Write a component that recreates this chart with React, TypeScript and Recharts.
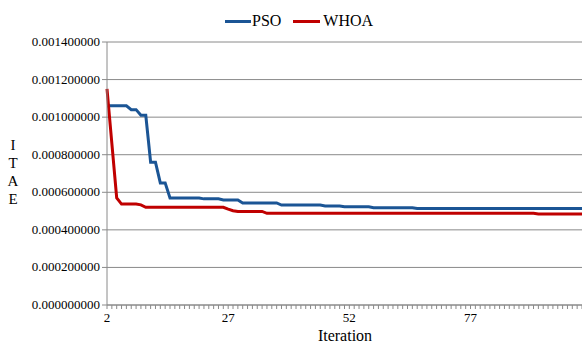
import React from 'react';
import { LineChart, Line, XAxis, YAxis, CartesianGrid } from 'recharts';

const iterations: number[] = [
  2, 3, 4, 5, 6, 7, 8, 9, 10, 11, 12, 13, 14, 15, 16, 17, 18, 19, 20, 21,
  22, 23, 24, 25, 26, 27, 28, 29, 30, 31, 32, 33, 34, 35, 36, 37, 38, 39, 40, 41,
  42, 43, 44, 45, 46, 47, 48, 49, 50, 51, 52, 53, 54, 55, 56, 57, 58, 59, 60, 61,
  62, 63, 64, 65, 66, 67, 68, 69, 70, 71, 72, 73, 74, 75, 76, 77, 78, 79, 80, 81,
  82, 83, 84, 85, 86, 87, 88, 89, 90, 91, 92, 93, 94, 95, 96, 97, 98, 99, 100,
];

const psoValues: number[] = [
  0.00106, 0.00106, 0.00106, 0.00106, 0.00106, 0.00104, 0.00104, 0.00101, 0.00101, 0.00076,
  0.00076, 0.00065, 0.00065, 0.00057, 0.00057, 0.00057, 0.00057, 0.00057, 0.00057, 0.00057,
  0.000565, 0.000565, 0.000565, 0.000565, 0.000559, 0.000559, 0.000559, 0.000559, 0.000543, 0.000543,
  0.000543, 0.000543, 0.000543, 0.000543, 0.000543, 0.000543, 0.000532, 0.000532, 0.000532, 0.000532,
  0.000532, 0.000532, 0.000532, 0.000532, 0.000532, 0.000527, 0.000527, 0.000527, 0.000527, 0.000523,
  0.000523, 0.000523, 0.000523, 0.000523, 0.000523, 0.000518, 0.000518, 0.000518, 0.000518, 0.000518,
  0.000518, 0.000518, 0.000518, 0.000518, 0.000514, 0.000514, 0.000514, 0.000514, 0.000514, 0.000514,
  0.000514, 0.000514, 0.000514, 0.000514, 0.000514, 0.000514, 0.000514, 0.000514, 0.000514, 0.000514,
  0.000514, 0.000514, 0.000514, 0.000514, 0.000514, 0.000514, 0.000514, 0.000514, 0.000514, 0.000514,
  0.000514, 0.000514, 0.000514, 0.000514, 0.000514, 0.000514, 0.000514, 0.000514, 0.000514,
];

const whoaValues: number[] = [
  0.00115, 0.00086, 0.00057, 0.000537, 0.000537, 0.000537, 0.000537, 0.000533, 0.00052, 0.00052,
  0.00052, 0.00052, 0.00052, 0.00052, 0.00052, 0.00052, 0.00052, 0.00052, 0.00052, 0.00052,
  0.00052, 0.00052, 0.00052, 0.00052, 0.00052, 0.00051, 0.000502, 0.000498, 0.000498, 0.000498,
  0.000498, 0.000498, 0.000498, 0.000488, 0.000488, 0.000488, 0.000488, 0.000488, 0.000488, 0.000488,
  0.000488, 0.000488, 0.000488, 0.000488, 0.000488, 0.000488, 0.000488, 0.000488, 0.000488, 0.000488,
  0.000488, 0.000488, 0.000488, 0.000488, 0.000488, 0.000488, 0.000488, 0.000488, 0.000488, 0.000488,
  0.000488, 0.000488, 0.000488, 0.000488, 0.000488, 0.000488, 0.000488, 0.000488, 0.000488, 0.000488,
  0.000488, 0.000488, 0.000488, 0.000488, 0.000488, 0.000488, 0.000488, 0.000488, 0.000488, 0.000488,
  0.000488, 0.000488, 0.000488, 0.000488, 0.000488, 0.000488, 0.000488, 0.000488, 0.000488, 0.000484,
  0.000484, 0.000484, 0.000484, 0.000484, 0.000484, 0.000484, 0.000484, 0.000484, 0.000484,
];

const xTickLabels: number[] = [2, 27, 52, 77];
const yTicks: number[] = [0, 0.0002, 0.0004, 0.0006, 0.0008, 0.001, 0.0012, 0.0014];
const yLabelLetters: string[] = ['I', 'T', 'A', 'E'];
const seriesNames = { pso: 'PSO', whoa: 'WHOA' };
const colors = { pso: '#1B5595', whoa: '#C00000' };

const data = iterations.map((it, i) => ({ it, pso: psoValues[i], whoa: whoaValues[i] }));

const FONT = '"Liberation Serif", "Times New Roman", serif';

const XTick = (props: any) => {
  const { x, y, payload } = props;
  if (!xTickLabels.includes(payload.value)) return null;
  return (
    <text x={x} y={y + 11} textAnchor="middle" fontFamily={FONT} fontSize={13} fill="#000">
      {payload.value}
    </text>
  );
};

const YTick = (props: any) => {
  const { x, y, payload } = props;
  return (
    <text x={x} y={y + 4} textAnchor="end" fontFamily={FONT} fontSize={13} fill="#000">
      {Number(payload.value).toFixed(9)}
    </text>
  );
};

const renderYLabel = () => (
  <text fontFamily={FONT} fontSize={15} fill="#000" textAnchor="middle">
    {yLabelLetters.map((l, i) => (
      <tspan key={l} x={13} y={150 + i * 18}>
        {l}
      </tspan>
    ))}
  </text>
);

const renderXLabel = () => (
  <text x={345} y={341} textAnchor="middle" fontFamily={FONT} fontSize={16} fill="#000">
    Iteration
  </text>
);

export default function App() {
  return (
    <div style={{ position: 'absolute', left: 0, top: 0, width: 582, height: 344, background: '#fff' }}>
      <div
        style={{
          position: 'absolute',
          left: 225,
          top: 12,
          display: 'flex',
          alignItems: 'center',
          fontFamily: FONT,
          fontSize: 16,
          color: '#000',
          whiteSpace: 'nowrap',
          zIndex: 2,
        }}
      >
        <span style={{ display: 'inline-block', width: 26, height: 3, background: colors.pso, marginRight: 1 }} />
        <span style={{ marginRight: 12 }}>{seriesNames.pso}</span>
        <span style={{ display: 'inline-block', width: 27, height: 3, background: colors.whoa, marginRight: 3 }} />
        <span>{seriesNames.whoa}</span>
      </div>
      <LineChart width={582} height={344} data={data} margin={{ top: 42, right: 0, bottom: 0, left: 0 }}>
        <CartesianGrid vertical={false} stroke="#8a8a8a" strokeWidth={1} />
        <XAxis
          dataKey="it"
          type="category"
          interval={0}
          height={39}
          tick={<XTick />}
          tickSize={4}
          tickLine={{ stroke: '#8a8a8a' }}
          axisLine={{ stroke: '#8a8a8a' }}
          label={{ content: renderXLabel }}
        />
        <YAxis
          width={107}
          domain={[0, 0.0014]}
          ticks={yTicks}
          interval={0}
          tick={<YTick />}
          tickSize={5}
          tickLine={{ stroke: '#8a8a8a' }}
          axisLine={{ stroke: '#8a8a8a' }}
          label={{ content: renderYLabel }}
        />
        <Line
          dataKey="pso"
          name={seriesNames.pso}
          stroke={colors.pso}
          strokeWidth={3}
          dot={false}
          type="linear"
          isAnimationActive={false}
        />
        <Line
          dataKey="whoa"
          name={seriesNames.whoa}
          stroke={colors.whoa}
          strokeWidth={3}
          dot={false}
          type="linear"
          isAnimationActive={false}
        />
      </LineChart>
    </div>
  );
}
